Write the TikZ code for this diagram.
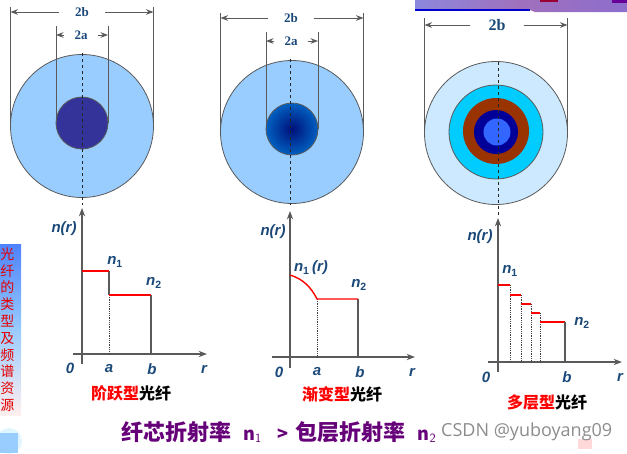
\documentclass[tikz,border=0pt]{standalone}
\usepackage{fontspec}
\usepackage{xcolor}
\usepackage{tikz}
\usetikzlibrary{arrows.meta, positioning, calc}
\setmainfont{Liberation Sans}
\newfontfamily\cjk{Noto Sans CJK SC}
\newfontfamily\serifbold{Liberation Serif}
\newfontfamily\markfont{Open Sans}
\definecolor{cladblue}{RGB}{153, 204, 255}
\definecolor{coreblue}{RGB}{51, 51, 153}
\definecolor{gradedmid}{RGB}{0, 16, 122}
\definecolor{gradedrim}{RGB}{0, 96, 192}
\definecolor{palecyan}{RGB}{204, 233, 255}
\definecolor{layercyan}{RGB}{0, 204, 255}
\definecolor{layerbrown}{RGB}{153, 51, 0}
\definecolor{layernavy}{RGB}{0, 0, 153}
\definecolor{layercore}{RGB}{51, 102, 255}
\definecolor{labelblue}{RGB}{26, 72, 120}
\definecolor{edgegray}{RGB}{90, 90, 90}
\definecolor{captionpurple}{RGB}{102, 0, 120}
\definecolor{bandleft}{RGB}{140, 136, 220}
\definecolor{bandmid}{RGB}{160, 112, 188}
\definecolor{bandright}{RGB}{140, 110, 205}
\tikzset{
    fiber/.style={circle, draw=edgegray, line width=0.8pt, inner sep=0pt, outer sep=0pt},
    dimline/.style={edgegray, line width=1pt},
    dimarrow/.style={->, edgegray, line width=1pt},
    dimlabel/.style={font=\serifbold\bfseries\fontsize{13}{13}\selectfont, text=labelblue, inner ysep=0pt},
    axisline/.style={->, edgegray, line width=1.2pt},
    centerline/.style={dashed, black!85, line width=1pt},
    stepline/.style={edgegray, line width=1.2pt},
    dropline/.style={densely dotted, black!75, line width=0.8pt},
    levelline/.style={red, line width=1.4pt},
    graphlabel/.style={font=\bfseries\itshape\fontsize{15}{15}\selectfont, text=labelblue, inner sep=0pt},
    caption/.style={font=\cjk\bfseries\fontsize{16}{16}\selectfont, inner sep=0pt}
}
\begin{document}
\begin{tikzpicture}[x=1pt, y=-1pt, >=Stealth]
    \useasboundingbox (0,0) rectangle (627,453);
    % top right band and side bar
    \shade[left color=bandleft, right color=bandmid] (415,0) rectangle (520,9);
    \shade[left color=bandmid, right color=bandright] (520,0) -- (627,0) -- (627,12) -- (535,12) -- (530,10) -- (520,9) -- cycle;
    \fill[blue!80!black] (415,9) rectangle (530,10.5);
    \fill[purple!80!black] (540,0) rectangle (558,2);
    \fill[violet!80!blue] (612,0) rectangle (627,3);
    \shade[top color=blue!70!cyan!70, bottom color=pink!25, middle color=cladblue] (0,244) rectangle (21,415);
    \node[font=\cjk\fontsize{14}{16.8}\selectfont, text=red!90!black, align=center, inner sep=0pt] (sidebar) at (7.5,329.5) {光\\纤\\的\\类\\型\\及\\频\\谱\\资\\源};
    \fill[cyan!12] (9,441) circle (13);
    \fill[cladblue] (0,433) rectangle (18,453);
    \fill[pink!60] (578,439) rectangle (592,449);
    % step index
    \node[fiber, fill=cladblue, minimum size=143] (cladA) at (82,126) {};
    \node[fiber, fill=coreblue, minimum size=52] (coreA) at (82,123) {};
    \draw[dimline] (cladA.west) -- ++(0,-119);
    \draw[dimline] (cladA.east) -- ++(0,-119);
    \draw[dimline] (coreA.west) -- ++(0,-97);
    \draw[dimline] (coreA.east) -- ++(0,-97);
    \node[dimlabel, inner xsep=16pt] (bA) at (82,12) {2b};
    \node[dimlabel, inner xsep=10pt] (aA) at (81,35) {2a};
    \draw[dimarrow] (bA.west) -- (bA.west -| cladA.west);
    \draw[dimarrow] (bA.east) -- (bA.east -| cladA.east);
    \draw[dimarrow] (aA.west) -- (aA.west -| coreA.west);
    \draw[dimarrow] (aA.east) -- (aA.east -| coreA.east);
    \coordinate (aAx) at (109,354);
    \coordinate (bAx) at (151,354);
    \coordinate (stepA) at (109,271);
    \coordinate (stepB) at (109,295);
    \coordinate (stepC) at (151,295);
    \draw[centerline] (82,53) -- (82,205);
    \draw[axisline] (82,364) -- (82,208);
    \draw[axisline] (73,354) -- (207,354);
    \draw[stepline] (stepA) -- (stepB);
    \draw[dropline] (stepB) -- (aAx);
    \draw[stepline] (stepC) -- (bAx);
    \draw[levelline] (82,271) -- (stepA);
    \draw[levelline] (stepB) -- (stepC);
    \node[graphlabel] (nrA) at (64,229) {n(r)};
    \node[graphlabel] (n1A) at (115,262) {n$_{\mathbf{1}}$};
    \node[graphlabel] (n2A) at (154,283) {n$_{\mathbf{2}}$};
    \node[graphlabel] (zeroA) at (70,368) {0};
    \node[graphlabel] (aLabelA) at (109,369) {a};
    \node[graphlabel] (bLabelA) at (152,369) {b};
    \node[graphlabel] (rA) at (204,369) {r};
    \node[caption] (capA) at (131,393) {\textcolor{red}{阶跃型}光纤};
    % graded index
    \node[fiber, fill=cladblue, minimum size=143] (cladB) at (292,132) {};
    \node[fiber, shade, inner color=gradedmid, outer color=gradedrim, minimum size=52] (coreB) at (292,129) {};
    \draw[dimline] (cladB.west) -- ++(0,-119);
    \draw[dimline] (cladB.east) -- ++(0,-119);
    \draw[dimline] (coreB.west) -- ++(0,-97);
    \draw[dimline] (coreB.east) -- ++(0,-97);
    \node[dimlabel, inner xsep=16pt] (bB) at (291,18) {2b};
    \node[dimlabel, inner xsep=10pt] (aB) at (291,41) {2a};
    \draw[dimarrow] (bB.west) -- (bB.west -| cladB.west);
    \draw[dimarrow] (bB.east) -- (bB.east -| cladB.east);
    \draw[dimarrow] (aB.west) -- (aB.west -| coreB.west);
    \draw[dimarrow] (aB.east) -- (aB.east -| coreB.east);
    \draw[centerline] (290,59) -- (290,205);
    \draw[axisline] (290,368) -- (290,211);
    \draw[axisline] (272,357) -- (415,357);
    \coordinate (kneeB) at (317,299);
    \coordinate (endB) at (358,299);
    \draw[dropline] (kneeB) -- (317,357);
    \draw[stepline] (endB) -- (358,357);
    \draw[levelline] (290,275) .. controls (303,279) and (311,287) .. (kneeB) -- (endB);
    \node[graphlabel] (nrB) at (273,232) {n(r)};
    \node[graphlabel] (n1B) at (311,268) {n$_{\mathbf{1}}$\,(r)};
    \node[graphlabel] (n2B) at (359,285) {n$_{\mathbf{2}}$};
    \node[graphlabel] (zeroB) at (279,372) {0};
    \node[graphlabel] (aLabelB) at (317,372) {a};
    \node[graphlabel] (bLabelB) at (360,372) {b};
    \node[graphlabel] (rB) at (412,372) {r};
    \node[caption] (capB) at (342,394) {\textcolor{red}{渐变型}光纤};
    % multilayer
    \node[fiber, fill=palecyan, minimum size=143] (cladC) at (496,133) {};
    \node[fiber, fill=layercyan, minimum size=94] (layerC) at (496,132) {};
    \node[fiber, draw=none, fill=layerbrown, minimum size=66] (midC) at (496,131) {};
    \node[fiber, draw=none, fill=layernavy, minimum size=44] (innerC) at (496,132) {};
    \node[fiber, draw=none, fill=layercore, minimum size=27] (coreC) at (497,132) {};
    \draw[dimline] (cladC.west) -- ++(0,-115);
    \draw[dimline] (cladC.east) -- ++(0,-115);
    \node[dimlabel, inner xsep=18pt, font=\serifbold\bfseries\fontsize{16}{16}\selectfont] (bC) at (497,25) {2b};
    \draw[dimarrow] (bC.west) -- (bC.west -| cladC.west);
    \draw[dimarrow] (bC.east) -- (bC.east -| cladC.east);
    \draw[centerline] (498,62) -- (498,216);
    \draw[axisline] (498,372) -- (498,218);
    \draw[axisline] (488,362) -- (622,362);
    \foreach \xa/\xb/\ya in {498/510/285, 510/521/295, 521/531/304, 531/540/313} {
        \draw[dropline] (\xb,\ya) -- (\xb,362);
        \draw[levelline] (\xa,\ya) -- (\xb,\ya);
    }
    \draw[levelline] (540,322) -- (565,322);
    \draw[stepline] (565,322) -- (565,362);
    \node[graphlabel] (nrC) at (480,237) {n(r)};
    \node[graphlabel] (n1C) at (510,271) {n$_{\mathbf{1}}$};
    \node[graphlabel] (n2C) at (582,323) {n$_{\mathbf{2}}$};
    \node[graphlabel] (zeroC) at (486,377) {0};
    \node[graphlabel] (bLabelC) at (567,377) {b};
    \node[graphlabel] (rC) at (620,377) {r};
    \node[caption] (capC) at (547,402) {\textcolor{red}{多层型}光纤};
    % bottom line
    \node[font=\cjk\bfseries\fontsize{22}{22}\selectfont, text=captionpurple, anchor=west, inner sep=0pt] (summary) at (121,432) {纤芯折射率\hspace{12pt}{\fontsize{18}{18}\selectfont n$_{\mathsf{1}}$}\hspace{16pt}{\fontsize{18}{18}\selectfont >}\hspace{7pt}包层折射率\hspace{12pt}{\fontsize{18}{18}\selectfont n$_{\mathsf{2}}$}};
    \node[font=\markfont\fontsize{18}{18}\selectfont, text=black!45, anchor=west, inner sep=0pt] (mark) at (441,432) {CSDN @yuboyang09};
\end{tikzpicture}
\end{document}
